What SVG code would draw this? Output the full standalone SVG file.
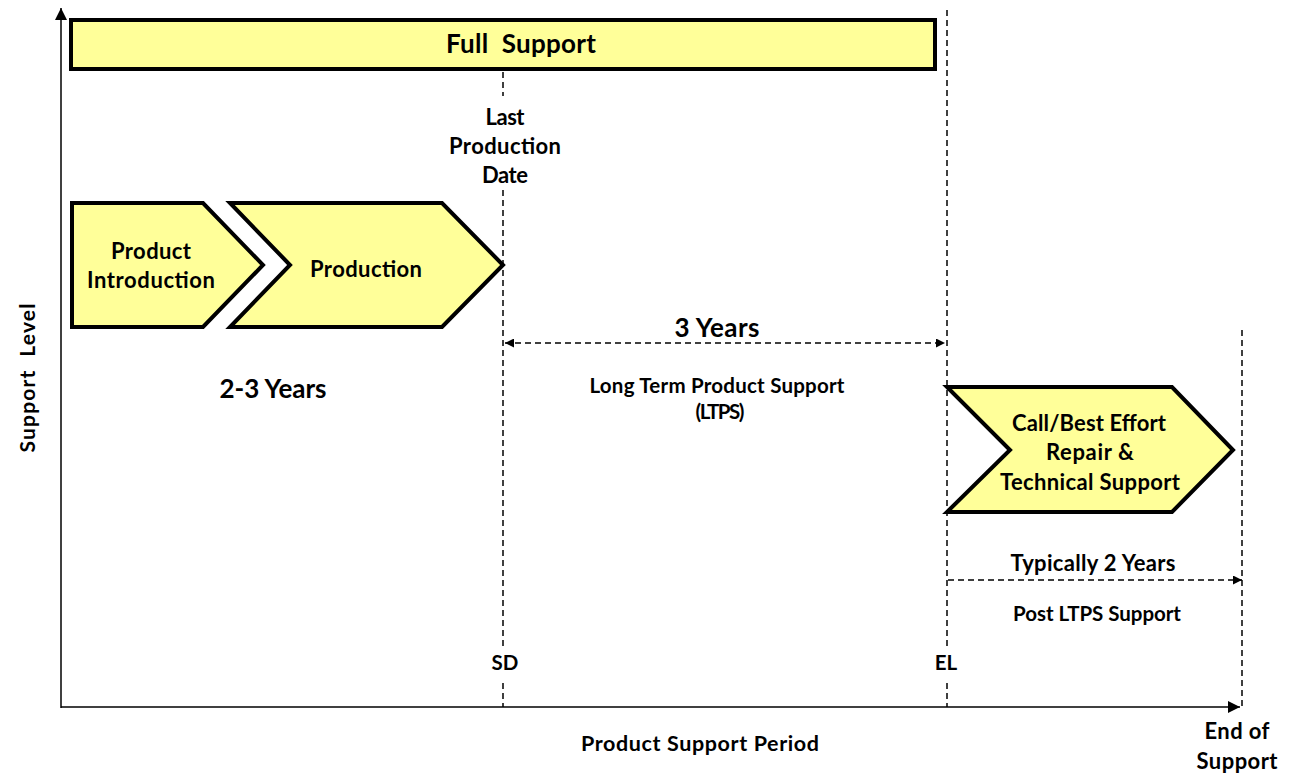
<svg xmlns="http://www.w3.org/2000/svg" width="1293" height="777" viewBox="0 0 1293 777">
<defs>
<style>
text{font-family:Lato,"Liberation Sans",sans-serif;font-weight:bold;fill:#000;text-anchor:middle}
.box{fill:#FFFF99;stroke:#000;stroke-width:4;stroke-linejoin:miter}
.dash{stroke:#000;stroke-width:1.5;stroke-dasharray:6 4;fill:none}
.axis{stroke:#000;stroke-width:1.5;fill:none}
</style>
<marker id="ah" viewBox="0 0 10 10" refX="10" refY="5" markerWidth="9" markerHeight="9" markerUnits="userSpaceOnUse" orient="auto-start-reverse"><path d="M0,0 L10,5 L0,10 z" fill="#000"/></marker>
<marker id="axh" viewBox="0 0 10 10" refX="10" refY="5" markerWidth="12" markerHeight="12" markerUnits="userSpaceOnUse" orient="auto"><path d="M0,0 L10,5 L0,10 z" fill="#000"/></marker>
</defs>
<rect width="1293" height="777" fill="#fff"/>
<g id="connectors">
<line class="axis" x1="61" y1="708" x2="61" y2="8" marker-end="url(#axh)"/>
<line class="axis" x1="61" y1="707" x2="1240" y2="707" marker-end="url(#axh)"/>
<line class="dash" x1="503" y1="72" x2="503" y2="96"/>
<line class="dash" x1="503" y1="190" x2="503" y2="650"/>
<line class="dash" x1="503" y1="683" x2="503" y2="707"/>
<line class="dash" x1="947" y1="10" x2="947" y2="648"/>
<line class="dash" x1="947" y1="683" x2="947" y2="707"/>
<line class="dash" x1="1242" y1="330" x2="1242" y2="707"/>
<line class="dash" x1="505" y1="343" x2="945" y2="343" marker-start="url(#ah)" marker-end="url(#ah)"/>
<line class="dash" x1="948" y1="580" x2="1242" y2="580" marker-end="url(#ah)"/>
</g>
<g id="full-support">
<rect class="box" x="71" y="20" width="864" height="49"/>
<text x="521" y="53" font-size="26" textLength="150" xml:space="preserve">Full  Support</text>
</g>
<g id="product-introduction">
<polygon class="box" points="72,203 203,203 263,265 203,327 72,327"/>
<text x="151" y="259" font-size="22" textLength="80">Product</text>
<text x="151" y="288" font-size="22" textLength="128">Introduction</text>
</g>
<g id="production">
<polygon class="box" points="230,203 442,203 503,265 442,327 230,327 290,265"/>
<text x="366" y="277" font-size="22" textLength="112">Production</text>
</g>
<g id="call-best-effort">
<polygon class="box" points="947,387 1172,387 1233,450 1172,512 947,512 1010,450"/>
<text x="1089" y="431" font-size="22" textLength="154">Call/Best Effort</text>
<text x="1090" y="460" font-size="22" textLength="88">Repair &amp;</text>
<text x="1090" y="490" font-size="22" textLength="180">Technical Support</text>
</g>
<g id="labels">
<text x="505" y="125" font-size="22" textLength="39">Last</text>
<text x="505" y="154" font-size="22" textLength="112">Production</text>
<text x="505" y="183" font-size="22" textLength="46">Date</text>
<text x="273" y="398" font-size="26" textLength="107">2-3 Years</text>
<text x="717" y="337" font-size="26" textLength="85">3 Years</text>
<text x="717" y="393" font-size="20.5" textLength="255">Long Term Product Support</text>
<text x="720" y="419" font-size="20.5" textLength="49">(LTPS)</text>
<text x="1093" y="571" font-size="22" textLength="165">Typically 2 Years</text>
<text x="1097" y="621" font-size="20.5" textLength="168">Post LTPS Support</text>
<text x="505" y="670" font-size="20.5">SD</text>
<text x="946" y="670" font-size="20.5">EL</text>
<text x="700" y="751" font-size="21.5" textLength="238">Product Support Period</text>
<text x="1237" y="739" font-size="22" textLength="65">End of</text>
<text x="1237" y="769" font-size="22" textLength="81">Support</text>
<text transform="translate(28,378) rotate(-90)" y="7" font-size="21" textLength="149" xml:space="preserve">Support  Level</text>
</g>
</svg>
